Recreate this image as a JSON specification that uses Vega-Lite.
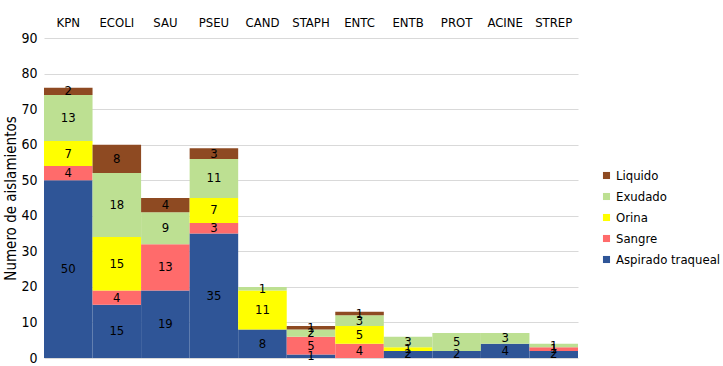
{
  "$schema": "https://vega.github.io/schema/vega-lite/v6.json",
  "autosize": "none",
  "width": 534,
  "height": 320,
  "padding": {"left": 44, "top": 38, "right": 145, "bottom": 8},
  "background": "white",
  "config": {
    "font": "DejaVu Sans Condensed, Liberation Sans",
    "view": {"stroke": null}
  },
  "data": {
    "values": [
      {"cat": "KPN", "tipo": "Aspirado traqueal", "ord": 1, "n": 50},
      {"cat": "KPN", "tipo": "Sangre", "ord": 2, "n": 4},
      {"cat": "KPN", "tipo": "Orina", "ord": 3, "n": 7},
      {"cat": "KPN", "tipo": "Exudado", "ord": 4, "n": 13},
      {"cat": "KPN", "tipo": "Liquido", "ord": 5, "n": 2},
      {"cat": "ECOLI", "tipo": "Aspirado traqueal", "ord": 1, "n": 15},
      {"cat": "ECOLI", "tipo": "Sangre", "ord": 2, "n": 4},
      {"cat": "ECOLI", "tipo": "Orina", "ord": 3, "n": 15},
      {"cat": "ECOLI", "tipo": "Exudado", "ord": 4, "n": 18},
      {"cat": "ECOLI", "tipo": "Liquido", "ord": 5, "n": 8},
      {"cat": "SAU", "tipo": "Aspirado traqueal", "ord": 1, "n": 19},
      {"cat": "SAU", "tipo": "Sangre", "ord": 2, "n": 13},
      {"cat": "SAU", "tipo": "Exudado", "ord": 4, "n": 9},
      {"cat": "SAU", "tipo": "Liquido", "ord": 5, "n": 4},
      {"cat": "PSEU", "tipo": "Aspirado traqueal", "ord": 1, "n": 35},
      {"cat": "PSEU", "tipo": "Sangre", "ord": 2, "n": 3},
      {"cat": "PSEU", "tipo": "Orina", "ord": 3, "n": 7},
      {"cat": "PSEU", "tipo": "Exudado", "ord": 4, "n": 11},
      {"cat": "PSEU", "tipo": "Liquido", "ord": 5, "n": 3},
      {"cat": "CAND", "tipo": "Aspirado traqueal", "ord": 1, "n": 8},
      {"cat": "CAND", "tipo": "Orina", "ord": 3, "n": 11},
      {"cat": "CAND", "tipo": "Exudado", "ord": 4, "n": 1},
      {"cat": "STAPH", "tipo": "Aspirado traqueal", "ord": 1, "n": 1},
      {"cat": "STAPH", "tipo": "Sangre", "ord": 2, "n": 5},
      {"cat": "STAPH", "tipo": "Exudado", "ord": 4, "n": 2},
      {"cat": "STAPH", "tipo": "Liquido", "ord": 5, "n": 1},
      {"cat": "ENTC", "tipo": "Sangre", "ord": 2, "n": 4},
      {"cat": "ENTC", "tipo": "Orina", "ord": 3, "n": 5},
      {"cat": "ENTC", "tipo": "Exudado", "ord": 4, "n": 3},
      {"cat": "ENTC", "tipo": "Liquido", "ord": 5, "n": 1},
      {"cat": "ENTB", "tipo": "Aspirado traqueal", "ord": 1, "n": 2},
      {"cat": "ENTB", "tipo": "Orina", "ord": 3, "n": 1},
      {"cat": "ENTB", "tipo": "Exudado", "ord": 4, "n": 3},
      {"cat": "PROT", "tipo": "Aspirado traqueal", "ord": 1, "n": 2},
      {"cat": "PROT", "tipo": "Exudado", "ord": 4, "n": 5},
      {"cat": "ACINE", "tipo": "Aspirado traqueal", "ord": 1, "n": 4},
      {"cat": "ACINE", "tipo": "Exudado", "ord": 4, "n": 3},
      {"cat": "STREP", "tipo": "Aspirado traqueal", "ord": 1, "n": 2},
      {"cat": "STREP", "tipo": "Sangre", "ord": 2, "n": 1},
      {"cat": "STREP", "tipo": "Exudado", "ord": 4, "n": 1}
    ]
  },
  "transform": [
    {"stack": "n", "groupby": ["cat"], "sort": [{"field": "ord", "order": "ascending"}], "as": ["y0", "y1"]},
    {"calculate": "(datum.y0 + datum.y1) / 2", "as": "ymid"}
  ],
  "encoding": {
    "x": {
      "field": "cat",
      "type": "nominal",
      "sort": ["KPN", "ECOLI", "SAU", "PSEU", "CAND", "STAPH", "ENTC", "ENTB", "PROT", "ACINE", "STREP"],
      "scale": {"paddingInner": 0, "paddingOuter": 0},
      "axis": {
        "orient": "top",
        "title": null,
        "labelAngle": 0,
        "ticks": false,
        "domain": false,
        "labelPadding": 9,
        "labelFontSize": 13,
        "labelColor": "#000000"
      }
    }
  },
  "layer": [
    {
      "mark": {"type": "bar"},
      "encoding": {
        "y": {
          "field": "y0",
          "type": "quantitative",
          "scale": {"domain": [0, 90]},
          "axis": {
            "values": [0, 10, 20, 30, 40, 50, 60, 70, 80, 90],
            "title": "Numero de aislamientos",
            "titleFontSize": 15,
            "titleFontWeight": "normal",
            "titleColor": "#000000",
            "titlePadding": 2,
            "labelFontSize": 14,
            "labelColor": "#000000",
            "labelPadding": 7,
            "ticks": false,
            "domain": false,
            "grid": true,
            "gridColor": "#D9D9D9",
            "gridWidth": 1,
            "zindex": 0
          }
        },
        "y2": {"field": "y1"},
        "color": {
          "field": "tipo",
          "type": "nominal",
          "scale": {
            "domain": ["Aspirado traqueal", "Sangre", "Orina", "Exudado", "Liquido"],
            "range": ["#2F5597", "#FF6B6B", "#FFFF00", "#BDE092", "#8E4A22"]
          },
          "legend": {
            "title": null,
            "orient": "none",
            "legendX": 556,
            "legendY": 131,
            "values": ["Liquido", "Exudado", "Orina", "Sangre", "Aspirado traqueal"],
            "symbolType": "square",
            "symbolSize": 50,
            "symbolStrokeWidth": 0,
            "labelFontSize": 13,
            "labelColor": "#000000",
            "rowPadding": 7,
            "labelOffset": 3
          }
        }
      }
    },
    {
      "mark": {"type": "text", "fontSize": 13, "color": "#000000", "baseline": "middle"},
      "encoding": {
        "y": {
          "field": "ymid",
          "type": "quantitative",
          "axis": {
            "values": [0, 10, 20, 30, 40, 50, 60, 70, 80, 90],
            "title": "Numero de aislamientos",
            "titleFontSize": 15,
            "titleFontWeight": "normal",
            "titleColor": "#000000",
            "titlePadding": 2,
            "labelFontSize": 14,
            "labelColor": "#000000",
            "labelPadding": 7,
            "ticks": false,
            "domain": false,
            "grid": true,
            "gridColor": "#D9D9D9",
            "gridWidth": 1,
            "zindex": 0
          }
        },
        "text": {"field": "n", "type": "quantitative"}
      }
    }
  ]
}
